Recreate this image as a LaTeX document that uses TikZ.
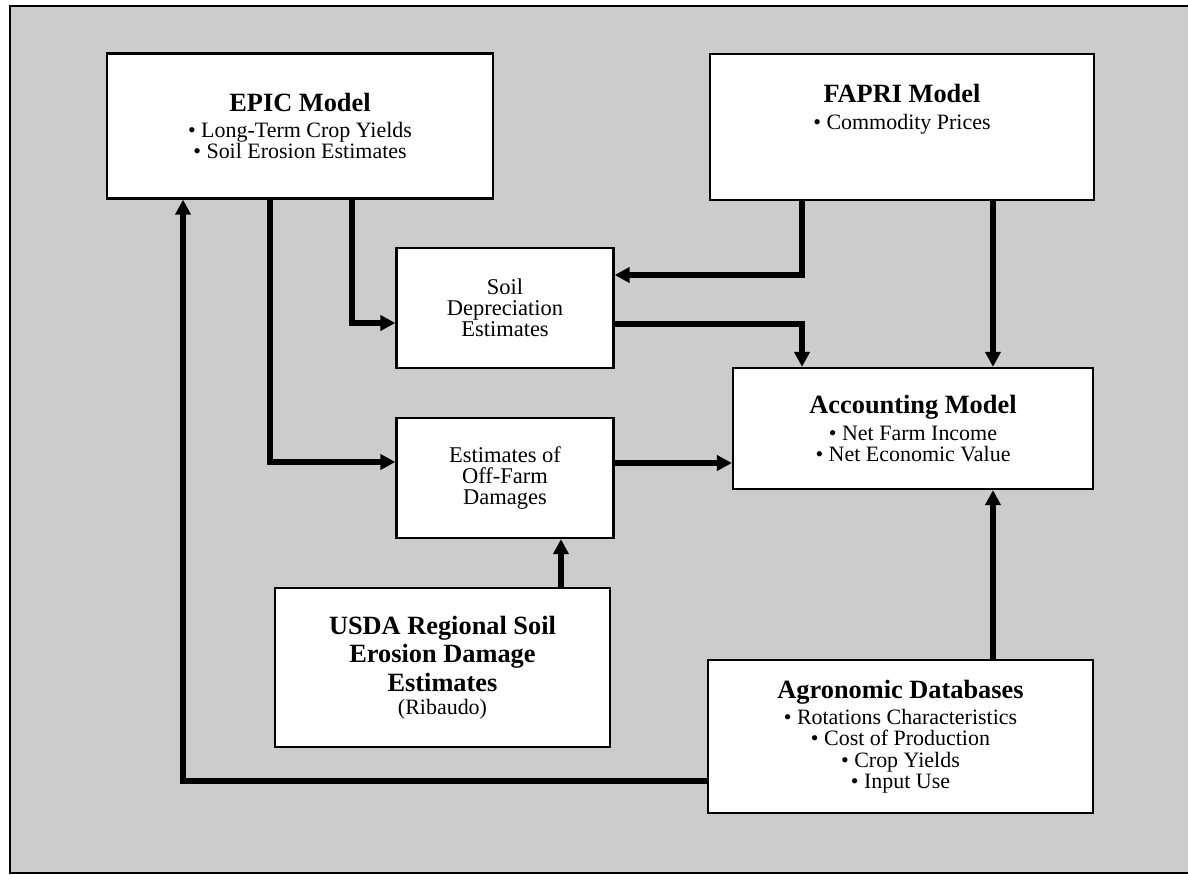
\documentclass[tikz,border=0pt]{standalone}
\usepackage{fontspec}
\setmainfont{Liberation Serif}
\usetikzlibrary{arrows.meta}
\definecolor{screen}{gray}{0.8}
\newcommand{\heading}[1]{{\fontsize{15}{17}\selectfont\bfseries #1}}

\begin{document}
\begin{tikzpicture}[x=0.02cm, y=-0.02cm,
    box/.style={rectangle, draw=black, line width=1.3pt, fill=white, align=center, inner sep=2pt, font=\fontsize{12.5}{12}\selectfont},
    smallbox/.style={box, minimum width=4.34cm, minimum height=2.4cm, font=\fontsize{12.8}{11.8}\selectfont},
    arrow/.style={-{Triangle[length=8.5pt,width=8.5pt]}, line width=3.3pt, black}
  ]
    \useasboundingbox (0,0) rectangle (1188,875);
    \draw[fill=screen, line width=1.2pt] (10,6) rectangle (1200,873);

    \node[box, minimum width=7.72cm, minimum height=2.9cm] at (300,126) (epic)
      {\heading{EPIC Model}\\[3pt] \textbullet\ Long-Term Crop Yields\\ \textbullet\ Soil Erosion Estimates};
    \node[box, minimum width=7.68cm, minimum height=2.92cm, text depth=0.8cm] at (902,127) (fapri)
      {\heading{FAPRI Model}\\[3pt] \textbullet\ Commodity Prices};
    \node[smallbox] at (505,308) (soil)  {Soil\\ Depreciation\\ Estimates};
    \node[smallbox] at (505,478) (off)   {Estimates of\\ Off-Farm\\ Damages};
    \node[box, minimum width=7.2cm, minimum height=2.42cm] at (913,428.5) (acc)
      {\heading{Accounting Model}\\[3pt] \textbullet\ Net Farm Income\\ \textbullet\ Net Economic Value};
    \node[box, minimum width=6.7cm, minimum height=3.18cm] at (442.5,667.5) (usda)
      {\heading{USDA Regional Soil}\\[1.5pt] \heading{Erosion Damage}\\[1.5pt] \heading{Estimates}\\[1pt] (Ribaudo)};
    \node[box, minimum width=7.7cm, minimum height=3.06cm] at (900.5,736.5) (agro)
      {\heading{Agronomic Databases}\\[3pt] \textbullet\ Rotations Characteristics\\ \textbullet\ Cost of Production\\
       \textbullet\ Crop Yields\\ \textbullet\ Input Use};

    \draw[arrow] ([xshift=1.04cm]epic.south) |- ([yshift=-0.3cm]soil.west);
    \draw[arrow] ([xshift=-0.6cm]epic.south) |- ([yshift=0.32cm]off.west);
    \draw[arrow] ([xshift=-2cm]fapri.south) |- ([yshift=0.66cm]soil.east);
    \draw[arrow] ([yshift=-0.32cm]soil.east) -| ([xshift=-2.22cm]acc.north);
    \draw[arrow] ([xshift=1.82cm]fapri.south) -- ([xshift=1.6cm]acc.north);
    \draw[arrow] ([yshift=0.3cm]off.east) -- ([yshift=0.3cm]off.east -| acc.west);
    \draw[arrow] ([xshift=2.37cm]usda.north) -- ([xshift=2.37cm]usda.north |- off.south);
    \draw[arrow] ([xshift=1.85cm]agro.north) -- ([xshift=1.85cm]agro.north |- acc.south);
    \draw[arrow] ([yshift=-0.89cm]agro.west) -| ([xshift=-2.34cm]epic.south);
\end{tikzpicture}
\end{document}
